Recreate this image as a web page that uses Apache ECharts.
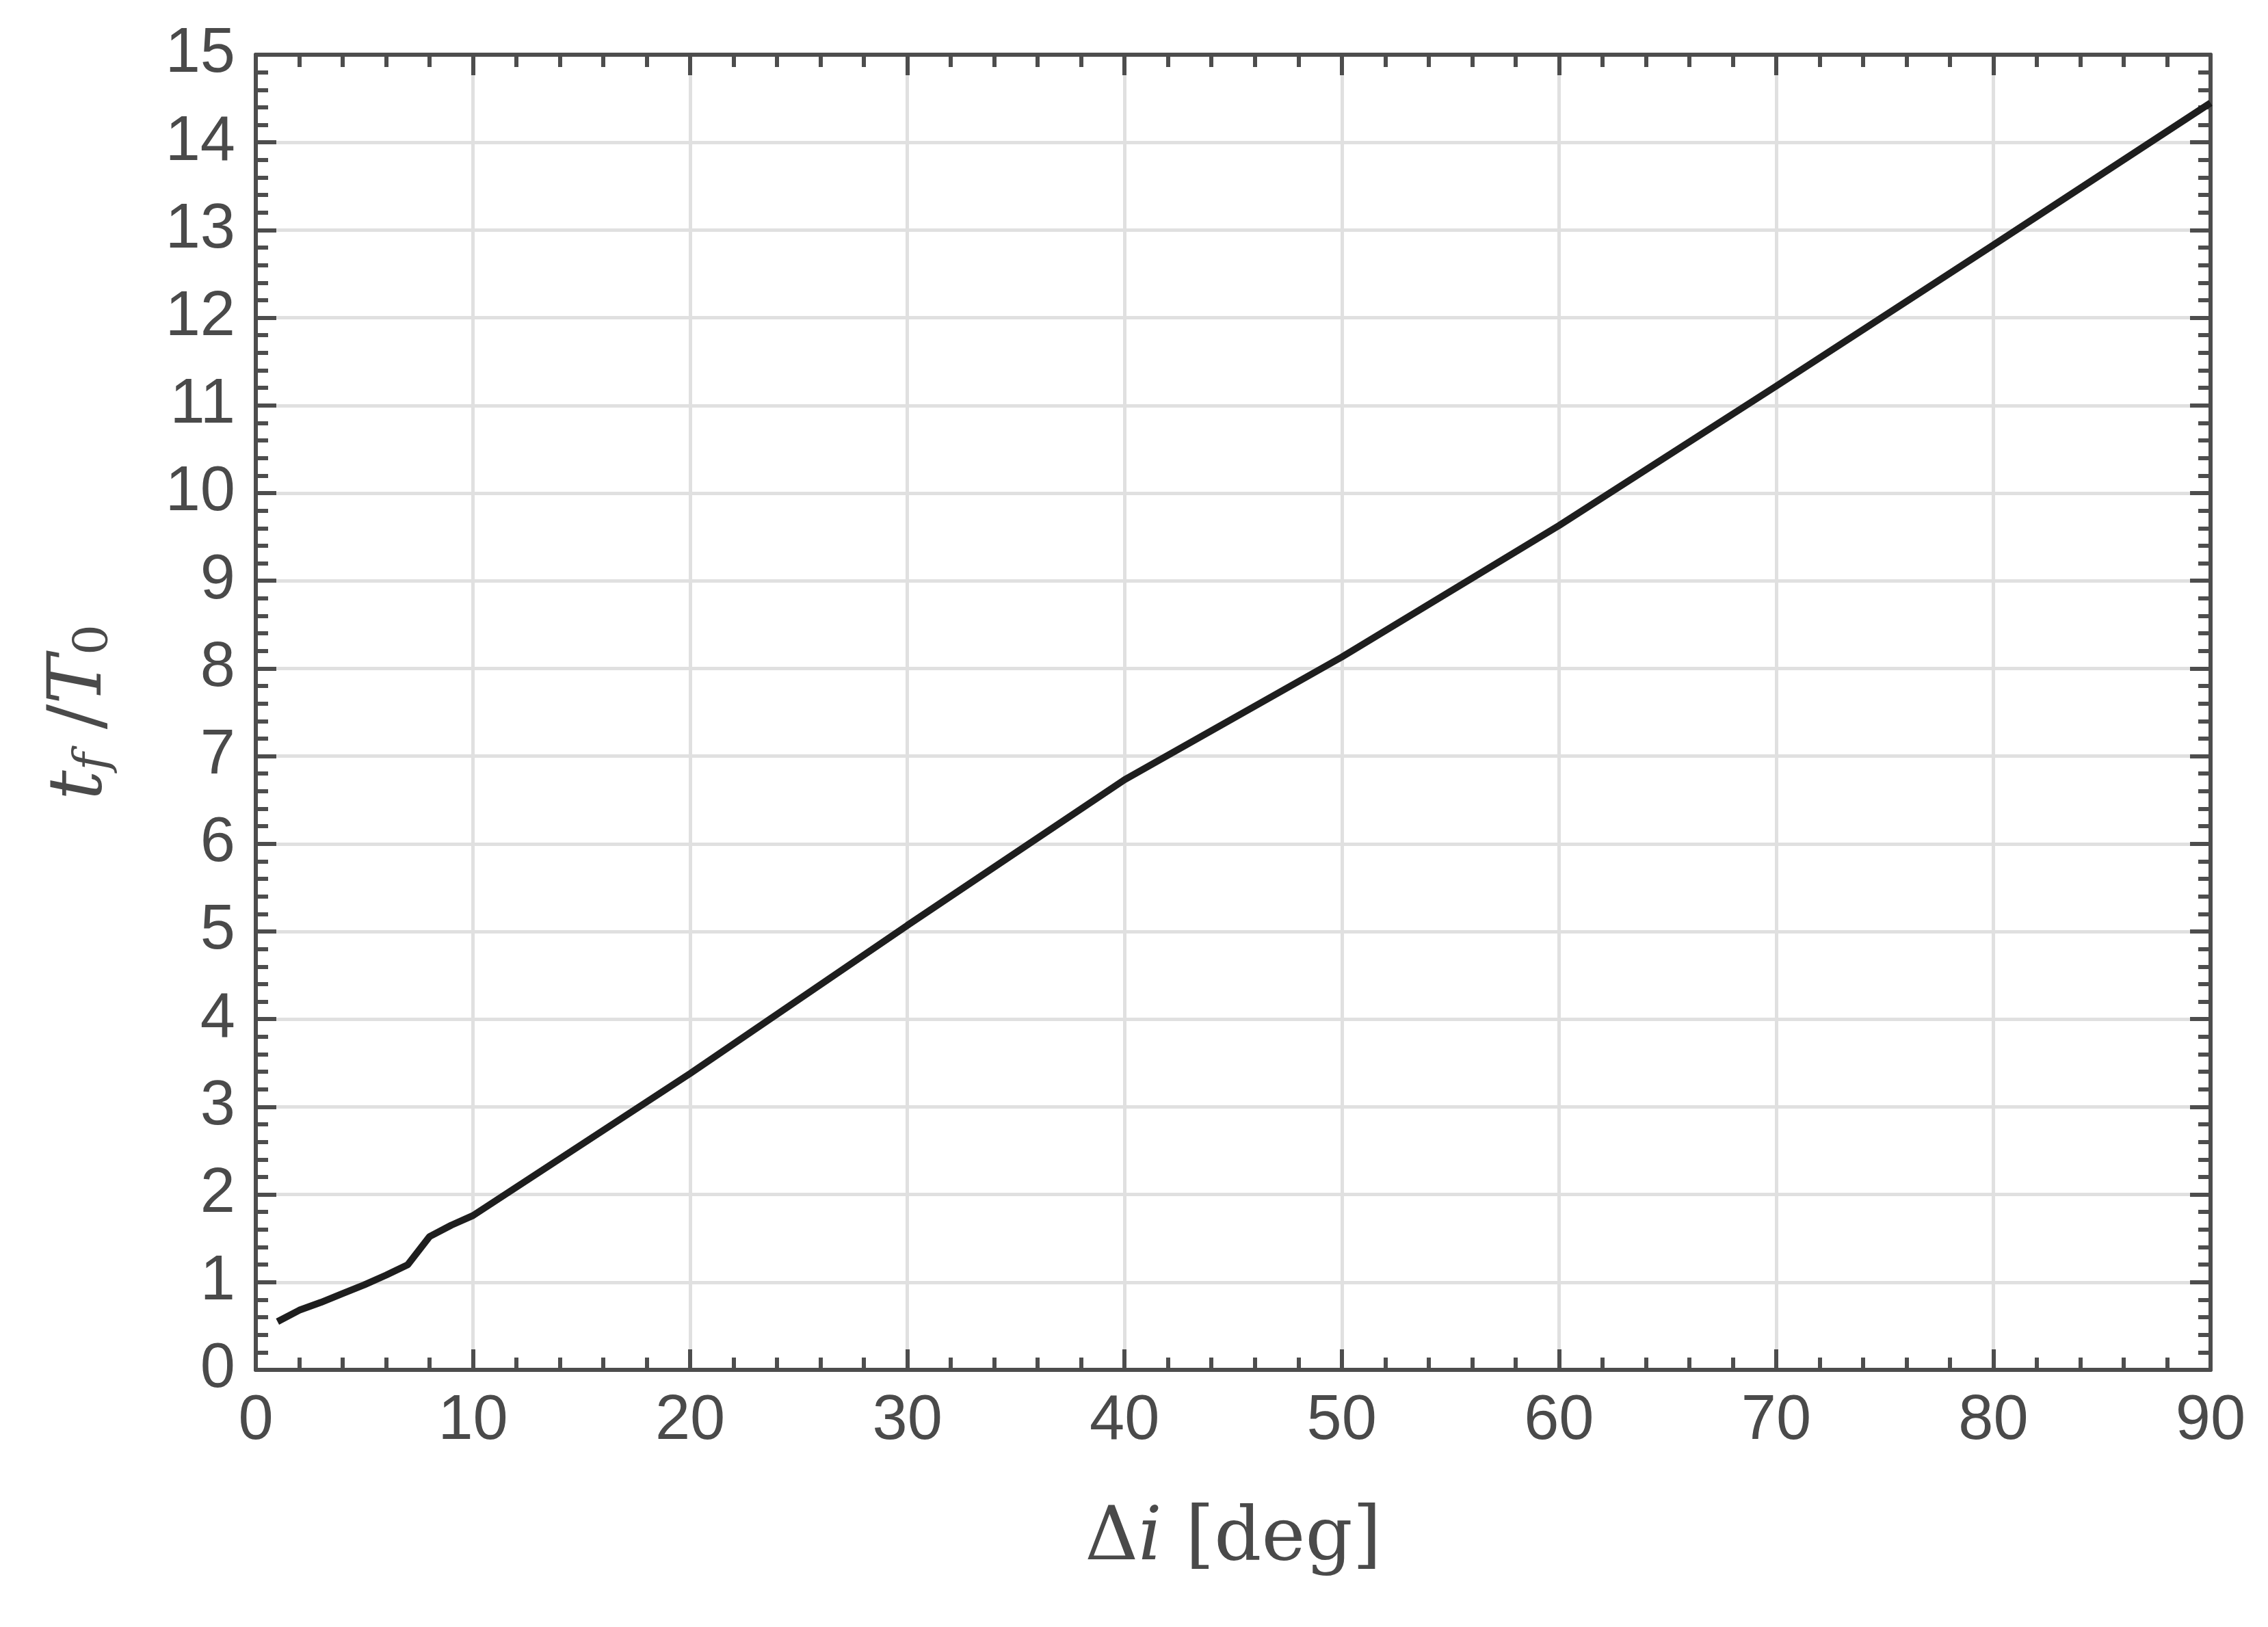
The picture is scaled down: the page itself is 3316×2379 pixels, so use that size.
<!DOCTYPE html><html><head><meta charset="utf-8">
<script src="https://cdn.jsdelivr.net/npm/echarts@6/dist/echarts.min.js"></script>
<style>html,body{margin:0;padding:0;background:#fff}#c{width:3316px;height:2379px}</style></head><body><div id="c"></div>
<script>
const xVals=[1,2,3,4,5,6,7,8,9,10,20,30,40,50,60,70,80,90];
const yVals=[0.55,0.68,0.77,0.87,0.97,1.08,1.2,1.52,1.65,1.76,3.38,5.07,6.73,8.13,9.63,11.22,12.83,14.45];
const xTicks=[0,10,20,30,40,50,60,70,80,90];
const yTicks=[0,1,2,3,4,5,6,7,8,9,10,11,12,13,14,15];
const ch=echarts.init(document.getElementById('c'));
const axCol='#4d4d4d';
const lab={color:'#4a4a4a',fontFamily:'Liberation Sans',fontSize:92};
function ax(pos,show,min,max,iv,split){return {type:'value',position:pos,min:min,max:max,interval:iv,
 axisLine:{show:true,onZero:false,lineStyle:{color:axCol,width:6}},
 axisTick:{show:true,inside:true,length:30,lineStyle:{color:axCol,width:6}},
 minorTick:{show:true,splitNumber:split,length:18,lineStyle:{color:axCol,width:6}},
 axisLabel:Object.assign({show:show,margin:30},lab),
 splitLine:{show:show,lineStyle:{color:'#e0e0e0',width:5}}};}
const xb=ax('bottom',true,0,90,10,5), xt=ax('top',false,0,90,10,5);
const yl=ax('left',true,0,15,1,5), yr=ax('right',false,0,15,1,5);
const rn={fontFamily:'DejaVu Serif',fontSize:108,color:'#4a4a4a'};
const ri={fontFamily:'DejaVu Serif',fontStyle:'italic',fontSize:108,color:'#4a4a4a'};
xb.name='{n|Δ}{i|i}{n| [deg]}';xb.nameLocation='middle';xb.nameGap=195;
xb.nameTextStyle={rich:{n:rn,i:ri}};
yl.name='{i|t}{s|f}{n| /}{i|T}{z|0}';yl.nameLocation='middle';yl.nameGap=200;yl.nameRotate=90;
yl.nameTextStyle={rich:{n:rn,i:ri,s:{fontFamily:'DejaVu Serif',fontStyle:'italic',fontSize:70,color:'#4a4a4a',padding:[40,0,0,0]},z:{fontFamily:'DejaVu Serif',fontSize:70,color:'#4a4a4a',padding:[40,0,0,0]}}};
ch.setOption({animation:false,
 grid:{left:374,right:84,top:80,bottom:376},
 xAxis:[xb,xt],yAxis:[yl,yr],
 series:[{type:'line',xAxisIndex:0,yAxisIndex:0,data:xVals.map((x,i)=>[x,yVals[i]]),showSymbol:false,
  lineStyle:{color:'#1e1e1e',width:10}}]});
</script></body></html>
